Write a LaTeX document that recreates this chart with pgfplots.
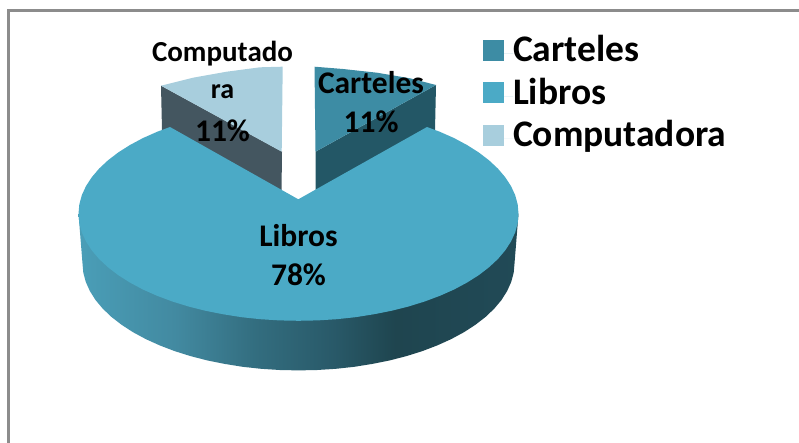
\documentclass[border=0pt]{standalone}
\usepackage{pgfplots}
\pgfplotsset{compat=1.18}
\usepackage{fontspec}
\setmainfont{Carlito}
\definecolor{cartop}{HTML}{3D8CA4}
\definecolor{carside}{HTML}{235766}
\definecolor{libtop}{HTML}{4BAAC6}
\definecolor{comtop}{HTML}{A8CEDD}
\definecolor{comside}{HTML}{445660}
\definecolor{frame}{HTML}{8C8C8C}
\pgfdeclarehorizontalshading{libside}{100bp}{
 rgb(0bp)=(0.29,0.62,0.72); rgb(25bp)=(0.29,0.62,0.72); rgb(36bp)=(0.26,0.54,0.63);
 rgb(45bp)=(0.20,0.43,0.50); rgb(54bp)=(0.16,0.35,0.41); rgb(61bp)=(0.12,0.27,0.31);
 rgb(75bp)=(0.13,0.29,0.34); rgb(100bp)=(0.13,0.29,0.34)}
\begin{document}
\begin{tikzpicture}
\useasboundingbox (0,0) rectangle (799pt,443pt);
\begin{axis}[
  at={(0,0)}, anchor=south west,
  scale only axis, width=799pt, height=443pt,
  xmin=0, xmax=799, ymin=0, ymax=443, y dir=reverse,
  hide axis, clip=true,
  legend style={at={(axis cs:483,38)}, anchor=north west, draw=none, fill=none,
    font=\fontsize{37.5}{37.5}\selectfont\bfseries, inner sep=0pt, outer sep=0pt,
    nodes={text height=24pt, text depth=8pt, inner sep=0pt},
    row sep=10.5pt},
  legend cell align=left,
  legend image code/.code={\fill[#1,draw=none] (0pt,-7pt) rectangle (21pt,14pt);\path[draw=none] (0pt,0pt) -- (30pt,0pt);},
]
\addlegendimage{fill=cartop}\addlegendentry{Carteles}
\addlegendimage{fill=libtop}\addlegendentry{Libros}
\addlegendimage{fill=comtop}\addlegendentry{Computadora}

% frame
\addplot[frame, line width=2.6pt, forget plot] coordinates {(8.7,443) (8.7,10.5) (799,10.5)};

% Computadora
\addplot[draw=none, fill=comside, forget plot] coordinates {(161,85.7) (282,151.7) (281.5,192) (162,130)} -- cycle;
\addplot[draw=none, fill=comtop, forget plot] coordinates {(282.7,66.7) (260,67.3) (226.7,71.7) (193,77.7) (161,85.7) (281.7,151.7)} -- cycle;

% Carteles
\addplot[draw=none, fill=carside, forget plot] coordinates {(436,85) (315.5,151.7) (315.7,192) (435,130)} -- cycle;
\addplot[draw=none, fill=cartop, forget plot] coordinates {(314.5,66.7) (343,69) (377,72.7) (410,78.3) (436,85) (315.5,151.7)} -- cycle;

% Libros side
\addplot[draw=none, shading=libside, forget plot] coordinates {
(78.5,213.8) (82.5,263.4) (83.3,272.7) (85.8,282) (89.9,291.1) (95.5,300) (102.7,308.6) (111.4,316.9)
(121.6,324.8) (133,332.2) (145.8,339.1) (159.7,345.4) (174.6,351.1) (190.5,356.1) (207.2,360.4)
(224.6,363.9) (242.6,366.8) (261,368.8) (279.7,370) (298.5,370.4) (317.3,370) (336,368.8) (354.4,366.8)
(372.4,363.9) (389.8,360.4) (406.5,356.1) (422.4,351.1) (437.3,345.4) (451.2,339.1) (464,332.2)
(475.4,324.8) (485.6,316.9) (494.3,308.6) (501.5,300) (507.1,291.1) (511.2,282) (513.7,272.7) (514.5,263.4) (518.5,213.8)} -- cycle;

% Libros top
\addplot[draw=none, fill=libtop, forget plot] coordinates {
(298.3,199.3) (427,127) (439.9,131.8) (454.1,138.1) (467,145) (478.7,152.4) (489,160.3) (497.9,168.6)
(505.2,177.2) (511,186.1) (515.2,195.2) (517.7,204.5) (518.5,213.8) (517.7,223.1) (515.2,232.4) (511,241.5)
(505.2,250.4) (497.9,259) (489,267.3) (478.7,275.2) (467,282.6) (454.1,289.5) (439.9,295.8) (424.7,301.5)
(408.5,306.5) (391.5,310.8) (373.7,314.3) (355.4,317.2) (336.7,319.2) (317.7,320.4) (298.5,320.8)
(279.3,320.4) (260.3,319.2) (241.6,317.2) (223.3,314.3) (205.5,310.8) (188.5,306.5) (172.3,301.5)
(157.1,295.8) (142.9,289.5) (130,282.6) (118.3,275.2) (108,267.3) (99.1,259) (91.8,250.4) (86,241.5)
(81.8,232.4) (79.3,223.1) (78.5,213.8) (79.3,204.5) (81.8,195.2) (86,186.1) (91.8,177.2) (99.1,168.6)
(108,160.3) (118.3,152.4) (130,145) (142.9,138.1) (157.1,131.8) (170,127)} -- cycle;

% data labels
\begin{scope}[every node/.style={font=\fontsize{31.5}{31.5}\selectfont\bfseries, text=black, inner sep=0pt}]
\node[font=\fontsize{29}{29}\selectfont\bfseries] at (axis cs:222.5,54) {Computado};
\node[font=\fontsize{28}{28}\selectfont\bfseries] at (axis cs:222.5,92) {ra};
\node at (axis cs:222.5,131) {11\%};
\node at (axis cs:371,83) {Carteles};
\node at (axis cs:371,122) {11\%};
\node at (axis cs:298.5,236) {Libros};
\node at (axis cs:298.5,275) {78\%};
\end{scope}
\end{axis}
\end{tikzpicture}
\end{document}
